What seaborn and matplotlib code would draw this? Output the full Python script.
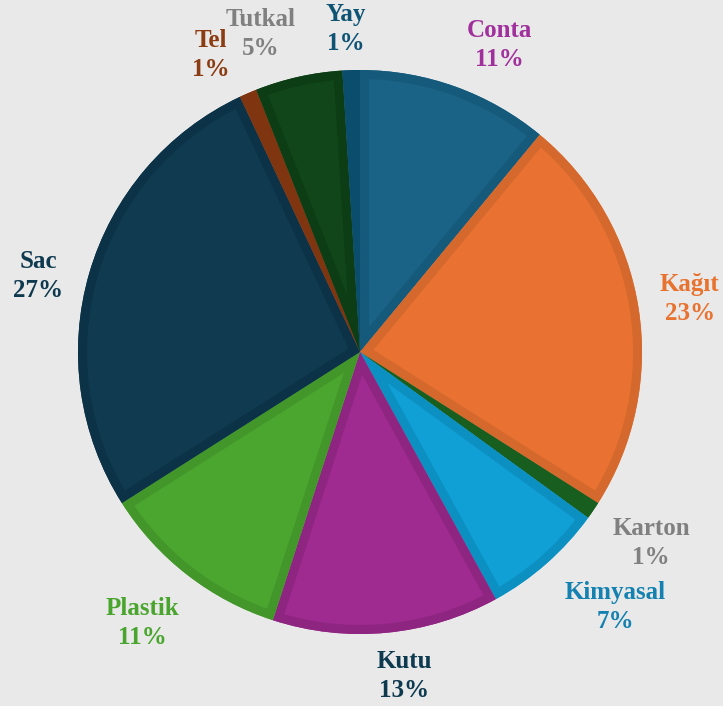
import matplotlib
matplotlib.use("Agg")
import matplotlib.pyplot as plt
import seaborn as sns
from matplotlib.patches import Wedge

# ---- data ----
categories = ["Conta", "Kağıt", "Karton", "Kimyasal", "Kutu",
              "Plastik", "Sac", "Tel", "Tutkal", "Yay"]
values = [11, 23, 1, 7, 13, 11, 27, 1, 5, 1]

# ---- styles ----
slice_colors = ["#1a6386", "#e97232", "#1c6a24", "#10a0d6", "#9f2a90",
                "#4ba62f", "#0f3a50", "#8e3c12", "#10461a", "#0c5577"]
border_colors = ["#155a7b", "#d5692d", "#175e1f", "#0c90c2", "#8e2581",
                 "#43972a", "#0b3246", "#7e3510", "#0c3d15", "#0a4d6c"]
label_colors = ["#a0309c", "#e8722f", "#808080", "#1481b0", "#0e3a50",
                "#4aa52e", "#0e394f", "#8b3c12", "#808080", "#0e5274"]
# label block centres (pixels from top-left), layout only
label_xy = [(499, 45), (690, 299), (651, 543), (615, 607), (404, 676),
            (142, 623), (38, 276), (211, 55), (261, 34), (346, 29)]

sns.set_style("white")
plt.rcParams["font.family"] = ["Liberation Serif", "DejaVu Serif"]

W, H = 723, 706
fig = plt.figure(figsize=(W / 100, H / 100), dpi=100, facecolor="#e9e9e9")
ax = fig.add_axes([0, 0, 1, 1])
ax.set_facecolor("#e9e9e9")

labels = [f"{c}\n{v}%" for c, v in zip(categories, values)]
cx, cy, R = 360, H - 352, 282
wedges, texts = ax.pie(values, colors=slice_colors, startangle=90,
                       counterclock=False, center=(cx, cy), radius=R,
                       labels=labels, labeldistance=1.18,
                       textprops=dict(ha="center", va="center",
                                      fontsize=18, fontweight="bold",
                                      linespacing=1.35),
                       wedgeprops=dict(linewidth=0))

border_px = 9
for w, bc in zip(wedges, border_colors):
    b = Wedge(w.center, w.r, w.theta1, w.theta2, fill=False, edgecolor=bc,
              linewidth=2 * border_px * 72 / 100, joinstyle="miter")
    ax.add_patch(b)
    b.set_clip_path(w)

for t, lc, (lx, ly) in zip(texts, label_colors, label_xy):
    t.set_color(lc)
    t.set_position((lx, H - ly))

ax.set_xlim(0, W)
ax.set_ylim(0, H)
ax.set_aspect("equal")
ax.axis("off")

fig.savefig("out.png", dpi=100, facecolor=fig.get_facecolor())
